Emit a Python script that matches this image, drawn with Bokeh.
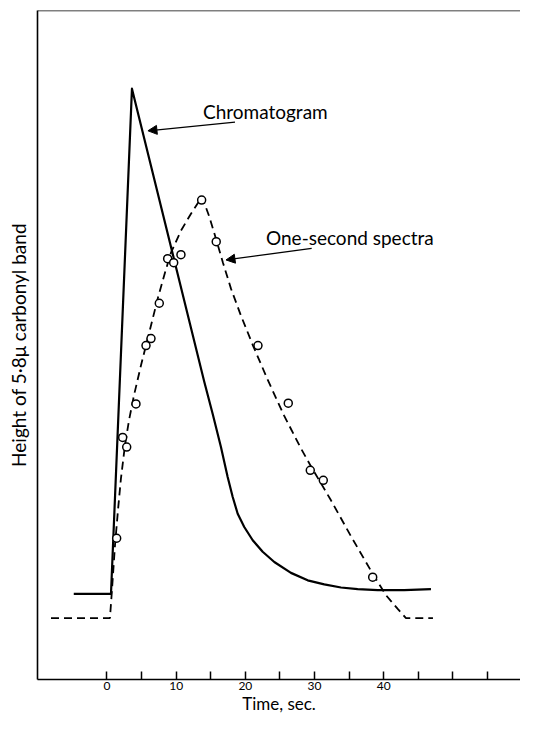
from bokeh.plotting import figure
from bokeh.models import (ColumnDataSource, Range1d, FixedTicker, Span, Arrow,
                          NormalHead, Label)
from bokeh.embed import file_html
from bokeh.resources import INLINE

FONT = "Lato"

# Chromatogram (solid line): time [s], band height [arbitrary units]
chrom_t = [-4.8, 0.58, 3.61, 14.06, 15.27, 16.47, 17.44, 18.16, 18.89, 19.84,
           21.06, 22.50, 24.18, 26.59, 29.00, 31.40, 33.82, 36.23, 39.12,
           42.96, 46.82]
chrom_h = [14.2, 14.2, 88.5, 45.4, 40.7, 35.8, 31.4, 28.5, 26.0, 24.05,
           22.1, 20.4, 18.9, 17.3, 16.2, 15.6, 15.15, 14.9, 14.76, 14.76, 14.9]

# One-second spectra (dashed fitted curve)
spec_t = [-8.09, 0.43, 0.72, 1.16, 1.59, 2.02, 2.60, 3.18, 3.90, 4.91, 6.07,
          7.37, 8.38, 9.25, 10.69, 12.14, 13.73, 14.74, 15.75, 16.76, 17.92,
          19.36, 21.10, 23.27, 25.58, 28.03, 29.48, 32.37, 35.26, 38.44,
          40.32, 42.05, 43.21, 47.11]
spec_h = [10.65, 10.65, 14.76, 21.37, 26.51, 31.20, 36.05, 39.72, 43.39,
          47.80, 52.50, 57.78, 61.45, 64.39, 67.62, 70.12, 72.61, 69.82,
          66.45, 62.92, 59.10, 55.14, 50.73, 45.59, 40.46, 35.61, 32.97,
          27.97, 22.69, 17.11, 14.02, 11.97, 10.65, 10.65]

# One-second spectra (measured points)
pts_t = [1.40, 2.27, 2.85, 4.19, 5.64, 6.36, 7.56, 8.77, 9.64, 10.69, 13.68,
         15.79, 21.82, 26.20, 29.38, 31.26, 38.40]
pts_h = [22.39, 37.22, 35.80, 42.14, 50.73, 51.76, 56.95, 63.51, 62.92,
         64.10, 72.13, 66.01, 50.73, 42.26, 32.38, 30.91, 16.67]

label_ticks = [0, 10, 20, 30, 40]
plain_ticks = [5, 15, 25, 35, 45, 50, 55]

p = figure(width=520, height=716, output_backend="svg", toolbar_location=None,
           x_range=Range1d(-10.04, 59.76), y_range=Range1d(1.62, 100),
           min_border_left=37, min_border_right=0, min_border_top=10,
           min_border_bottom=36)
p.outline_line_color = None
p.xgrid.visible = False
p.ygrid.visible = False
p.background_fill_color = "white"

# x axis
xa = p.xaxis[0]
xa.ticker = FixedTicker(ticks=label_ticks, minor_ticks=plain_ticks)
xa.major_tick_in = 8
xa.major_tick_out = 0
xa.minor_tick_in = 8
xa.minor_tick_out = 0
xa.major_tick_line_width = 1.5
xa.minor_tick_line_width = 1.5
xa.axis_line_width = 1.6
xa.major_label_standoff = 2
xa.major_label_text_font = FONT
xa.major_label_text_font_size = "12px"
xa.major_label_text_color = "black"
xa.axis_label = "Time, sec."
xa.axis_label_text_font = FONT
xa.axis_label_text_font_size = "17px"
xa.axis_label_text_font_style = "normal"
xa.axis_label_standoff = 0
xa.axis_label_text_color = "black"

# y axis
ya = p.yaxis[0]
ya.ticker = FixedTicker(ticks=[])
ya.major_tick_in = 0
ya.major_tick_out = 0
ya.minor_tick_in = 0
ya.minor_tick_out = 0
ya.major_label_text_font_size = "0px"
ya.axis_line_width = 1.6
ya.axis_label = "Height of 5·8μ carbonyl band"
ya.axis_label_text_font = FONT
ya.axis_label_text_font_size = "19px"
ya.axis_label_text_font_style = "normal"
ya.axis_label_standoff = 8
ya.axis_label_text_color = "black"

p.add_layout(Span(location=100, dimension="width", line_color="black",
                  line_width=1.6))

chrom = ColumnDataSource(data=dict(t=chrom_t, h=chrom_h))
spec = ColumnDataSource(data=dict(t=spec_t, h=spec_h))
pts = ColumnDataSource(data=dict(t=pts_t, h=pts_h))

p.line("t", "h", source=chrom, line_color="black", line_width=2.2,
       line_join="round")
p.line("t", "h", source=spec, line_color="black", line_width=1.8,
       line_dash="8 5")
p.scatter("t", "h", source=pts, marker="circle", size=8, fill_color="white",
          line_color="black", line_width=1.5)

p.add_layout(Arrow(end=NormalHead(size=9, fill_color="black",
                                  line_color="black", line_width=1),
                   x_start=18.5, y_start=83.6, x_end=5.92, y_end=82.31,
                   line_color="black", line_width=1.3))
p.add_layout(Arrow(end=NormalHead(size=9, fill_color="black",
                                  line_color="black", line_width=1),
                   x_start=29.58, y_start=65.02, x_end=17.2, y_end=63.32,
                   line_color="black", line_width=1.3))

p.add_layout(Label(x=13.87, y=85.1, text="Chromatogram", text_font=FONT,
                   text_font_size="19px", text_color="black",
                   text_baseline="alphabetic"))
p.add_layout(Label(x=22.98, y=66.64, text="One-second spectra",
                   text_font=FONT, text_font_size="19px", text_color="black",
                   text_baseline="alphabetic"))

open("out.html", "w").write(file_html(p, INLINE))
